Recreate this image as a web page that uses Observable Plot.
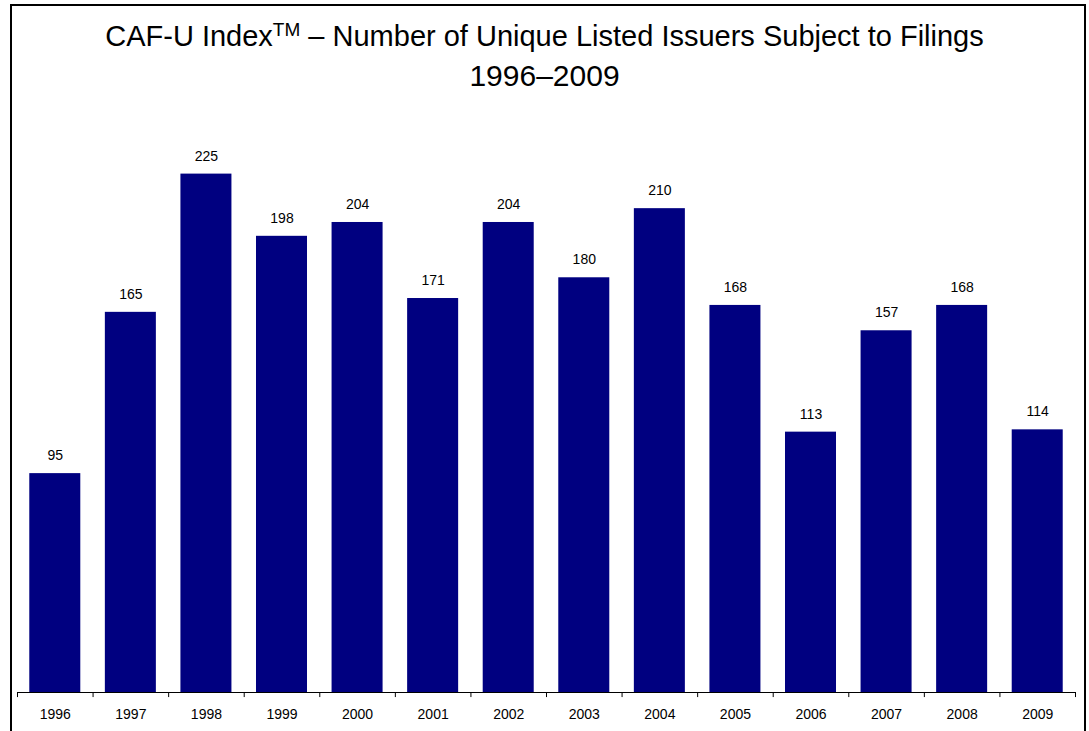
<!DOCTYPE html>
<html><head>
<meta charset="utf-8">
<script src="https://cdn.jsdelivr.net/npm/d3@7"></script>
<script src="https://cdn.jsdelivr.net/npm/@observablehq/plot@0.6"></script>
<style>
body{margin:0;background:#fff;font-family:"Liberation Sans",Arial,sans-serif;width:1089px;height:731px;overflow:hidden;position:relative}
#frame{position:absolute;left:10px;top:4px;width:1076px;height:760px;border:2px solid #000;box-sizing:border-box;}
#title{position:absolute;left:0;top:0;width:1089px;text-align:center;font-size:29px;line-height:39px;padding-top:17px;color:#000}
#title sup{font-size:19px;line-height:0;vertical-align:0.55em}
#title .l2{font-size:30px}
#chart{position:absolute;left:0;top:0}
</style></head>
<body>
<div id="chart"></div>
<div id="frame"></div>
<div id="title">CAF-U Index<sup>TM</sup> – Number of Unique Listed Issuers Subject to Filings<br><span class="l2">1996–2009</span></div>
<script>
const years = ["1996","1997","1998","1999","2000","2001","2002","2003","2004","2005","2006","2007","2008","2009"];
const counts = [95,165,225,198,204,171,204,180,210,168,113,157,168,114];
const data = years.map((y,i)=>({year:y, count:counts[i]}));

const W = 1089, H = 731, mL = 17, mR = 14;
const bw = (W - mL - mR) / years.length;
const inset = bw * 0.325 / 2;

const chart = Plot.plot({
  width: W, height: H,
  marginLeft: mL, marginRight: mR, marginTop: 116, marginBottom: 39,
  style: {fontFamily: '"Liberation Sans", Arial, sans-serif', background: "transparent", color: "#000"},
  x: {domain: years, padding: 0, round: false, label: null},
  y: {domain: [0, 250], axis: null},
  marks: [
    Plot.barY(data, {x: "year", y: "count", fill: "#000080", insetLeft: inset, insetRight: inset}),
    Plot.text(data, {x: "year", y: "count", text: d => String(d.count), dy: -18, fontSize: 14, fill: "#000"}),
    Plot.ruleY([0], {stroke: "#000", strokeWidth: 1}),
    Plot.ruleX(years, {x: d => d, y1: 0, y2: -2.2, dx: -bw/2, stroke: "#000"}),
    Plot.ruleX([years[years.length-1]], {x: d => d, y1: 0, y2: -2.2, dx: bw/2, stroke: "#000"}),
    Plot.axisX({tickSize: 0, tickPadding: 17, fontSize: 14, label: null})
  ]
});
document.getElementById("chart").appendChild(chart);
</script>
</body></html>
